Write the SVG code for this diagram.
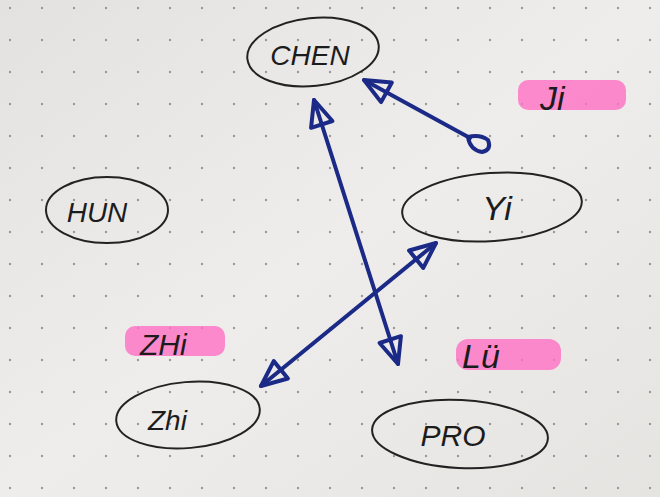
<svg xmlns="http://www.w3.org/2000/svg" width="660" height="497" viewBox="0 0 660 497">
<defs>
<pattern id="dots" x="8" y="6" width="32" height="32" patternUnits="userSpaceOnUse">
<circle cx="2" cy="2" r="1.2" fill="#777"/>
</pattern>
<linearGradient id="paper" x1="0" y1="0" x2="1" y2="1">
<stop offset="0" stop-color="#e4e2e0"/>
<stop offset="0.5" stop-color="#eeedeb"/>
<stop offset="1" stop-color="#e6e4e1"/>
</linearGradient>
<marker id="head" viewBox="0 0 20 20" refX="18" refY="10" markerWidth="8" markerHeight="8" orient="auto-start-reverse" markerUnits="strokeWidth">
<path d="M2,3 L18,10 L2,17 Z" fill="none" stroke="#1b2a86" stroke-width="2.5" stroke-linejoin="round"/>
</marker>
<style>
.node{fill:none;stroke:#222;stroke-width:2}
.hl{fill:#ff6fc4;opacity:0.8}
.lbl{font-family:"Liberation Sans",Arial,sans-serif;font-style:italic;fill:#1c1c1c}
.arr{fill:none;stroke:#1b2a86;stroke-width:4;stroke-linecap:round}
</style>
</defs>
<rect width="660" height="497" fill="url(#paper)"/>
<rect width="660" height="497" fill="url(#dots)" opacity="0.7"/>

<g id="chen"><ellipse class="node" cx="313" cy="52" rx="66" ry="34" transform="rotate(-6 313 52)"/><text class="lbl" x="310" y="65" text-anchor="middle" style="font-size:28px">CHEN</text></g>
<g id="ji"><rect class="hl" x="518" y="80" width="108" height="30" rx="10"/><text class="lbl" x="540" y="110" style="font-size:34px">Ji</text></g>
<g id="hun"><ellipse class="node" cx="107" cy="210" rx="61" ry="33"/><text class="lbl" x="97" y="222" text-anchor="middle" style="font-size:28px">HUN</text></g>
<g id="yi"><ellipse class="node" cx="492" cy="207" rx="90" ry="34" transform="rotate(-4 492 207)"/><text class="lbl" x="497" y="220" text-anchor="middle" style="font-size:34px">Yi</text></g>
<g id="zhi-hl"><rect class="hl" x="125" y="326" width="100" height="30" rx="10"/><text class="lbl" x="140" y="355" style="font-size:30px">ZHi</text></g>
<g id="lu"><rect class="hl" x="456" y="339" width="105" height="31" rx="12"/><text class="lbl" x="462" y="368" style="font-size:34px">Lü</text></g>
<g id="zhi"><ellipse class="node" cx="188" cy="415" rx="72" ry="33" transform="rotate(-5 188 415)"/><text class="lbl" x="148" y="430" style="font-size:28px">Zhi</text></g>
<g id="pro"><ellipse class="node" cx="460" cy="434" rx="88" ry="34" transform="rotate(3 460 434)"/><text class="lbl" x="453" y="446" text-anchor="middle" style="font-size:30px">PRO</text></g>

<g id="connectors">
<path class="arr" d="M314,100 L398,364" marker-start="url(#head)" marker-end="url(#head)"/>
<path class="arr" d="M470,138 L364,80" marker-end="url(#head)"/>
<path d="M468,137 Q480,134 488,140 Q492,150 482,152 Q470,150 468,137 Z" fill="none" stroke="#1b2a86" stroke-width="4"/>
<path class="arr" d="M261,386 L436,243" marker-start="url(#head)" marker-end="url(#head)"/>
</g>
</svg>
